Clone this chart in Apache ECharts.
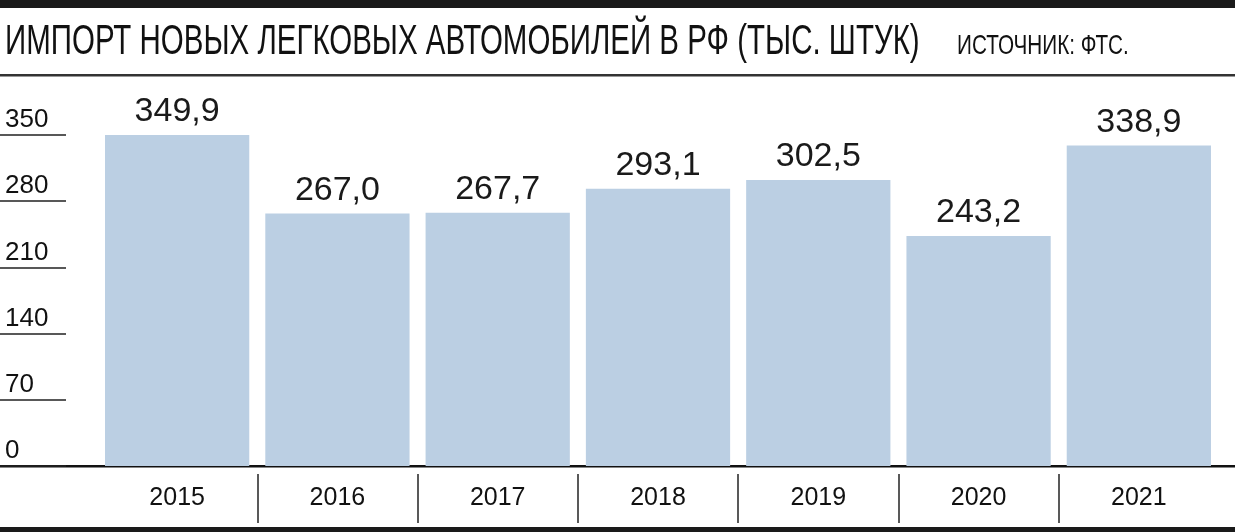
<!DOCTYPE html>
<html>
<head>
<meta charset="utf-8">
<script src="https://cdn.jsdelivr.net/npm/echarts@6/dist/echarts.min.js"></script>
<style>
html,body{margin:0;padding:0;background:#fff;}
#chart{width:1235px;height:532px;}
</style>
</head>
<body>
<div id="chart"></div>
<script>
const titleText = 'ИМПОРТ НОВЫХ ЛЕГКОВЫХ АВТОМОБИЛЕЙ В РФ (ТЫС. ШТУК)';
const sourceText = 'ИСТОЧНИК: ФТС.';
const years = ['2015', '2016', '2017', '2018', '2019', '2020', '2021'];
const imports = [349.9, 267.0, 267.7, 293.1, 302.5, 243.2, 338.9];
const yTicks = [0, 70, 140, 210, 280, 350];

const sans = '"Liberation Sans", Arial, Helvetica, sans-serif';
const chart = echarts.init(document.getElementById('chart'), null, {renderer: 'canvas'});

chart.setOption({
  backgroundColor: '#ffffff',
  animation: false,
  grid: [
    {left: 97, right: 16, top: 135, bottom: 66},
    {left: 97, right: 16, top: 474, height: 49}
  ],
  xAxis: [
    {
      type: 'category', gridIndex: 0, data: years,
      axisLine: {show: false}, axisTick: {show: false},
      axisLabel: {fontFamily: sans, fontSize: 25, color: '#111', margin: 20}
    },
    {
      type: 'category', gridIndex: 1, data: years,
      axisLine: {show: false}, axisTick: {show: false}, axisLabel: {show: false},
      splitLine: {show: true, showMinLine: false, showMaxLine: false, lineStyle: {color: '#222', width: 1.5}}
    }
  ],
  yAxis: [
    {
      type: 'value', gridIndex: 0, min: yTicks[0], max: yTicks[yTicks.length - 1], interval: 70,
      position: 'left', offset: 31,
      axisLine: {show: false},
      axisTick: {show: true, length: 66, lineStyle: {color: '#222', width: 1.5}},
      splitLine: {show: false},
      axisLabel: {
        fontFamily: sans, fontSize: 26, color: '#111', align: 'left', margin: 61,
        verticalAlign: 'bottom', padding: [0, 0, 2, 0]
      }
    },
    {type: 'value', gridIndex: 1, show: false}
  ],
  series: [{
    type: 'bar', xAxisIndex: 0, yAxisIndex: 0, data: imports,
    barCategoryGap: '10%',
    itemStyle: {color: '#bbcfe3'},
    label: {
      show: true, position: 'top', distance: 6,
      fontFamily: sans, fontSize: 34, color: '#1a1a1a',
      formatter: p => p.value.toFixed(1).replace('.', ',')
    }
  }],
  graphic: [
    {type: 'rect', shape: {x: 0, y: 0, width: 1235, height: 8}, style: {fill: '#1a1a1a'}},
    {type: 'rect', shape: {x: 0, y: 74, width: 1235, height: 2.5}, style: {fill: '#333'}},
    {type: 'rect', shape: {x: 0, y: 465, width: 1235, height: 2.5}, style: {fill: '#111'}},
    {type: 'rect', shape: {x: 0, y: 527, width: 1235, height: 5}, style: {fill: '#1a1a1a'}},
    {type: 'text', x: 5, y: 21, scaleX: 0.686,
      style: {text: titleText, font: '43px ' + sans, fill: '#111', textVerticalAlign: 'top'}},
    {type: 'text', x: 957, y: 32, scaleX: 0.74,
      style: {text: sourceText, font: '28px ' + sans, fill: '#111', textVerticalAlign: 'top'}}
  ]
});
</script>
</body>
</html>
